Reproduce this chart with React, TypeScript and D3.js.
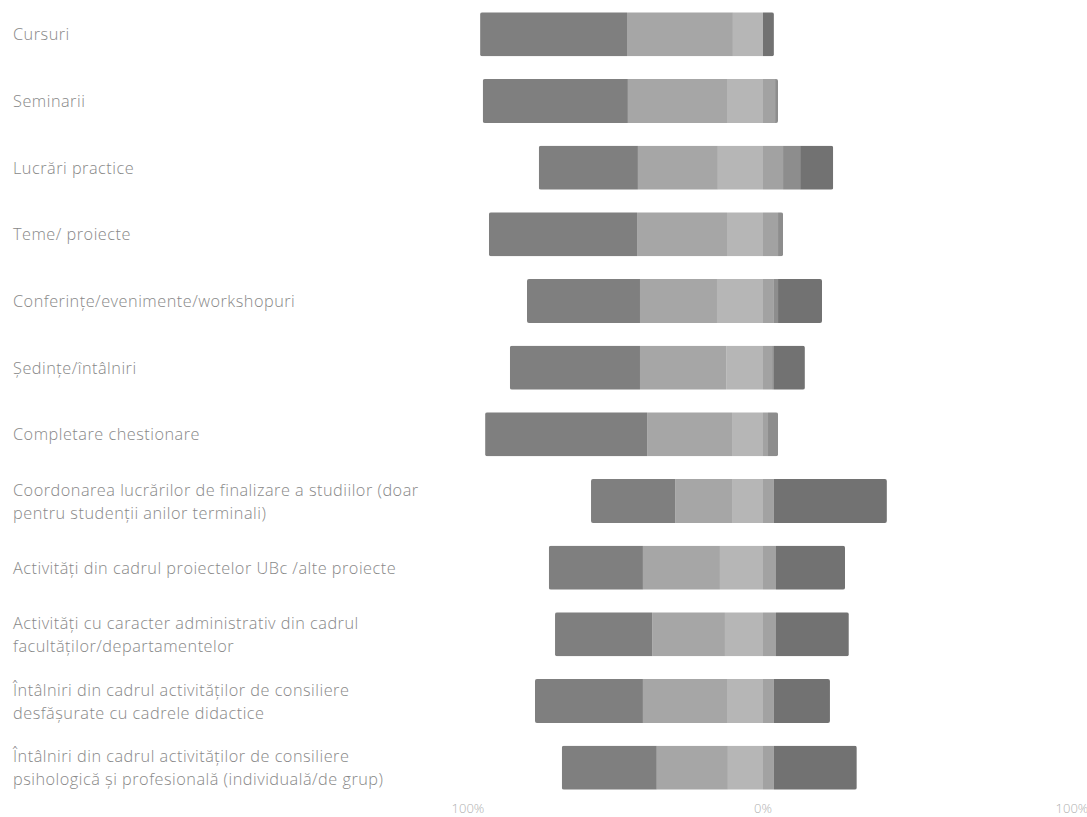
import React from "react";
import * as d3 from "d3";

const categories: string[] = [
  "Cursuri",
  "Seminarii",
  "Lucrări practice",
  "Teme/ proiecte",
  "Conferințe/evenimente/workshopuri",
  "Ședințe/întâlniri",
  "Completare chestionare",
  "Coordonarea lucrărilor de finalizare a studiilor (doar\npentru studenții anilor terminali)",
  "Activități din cadrul proiectelor UBc /alte proiecte",
  "Activități cu caracter administrativ din cadrul\nfacultăților/departamentelor",
  "Întâlniri din cadrul activităților de consiliere\ndesfășurate cu cadrele didactice",
  "Întâlniri din cadrul activităților de consiliere\npsihologică și profesională (individuală/de grup)",
];

// left-side (negative) levels, from outermost to zero
const levelA: number[] = [49.8, 49.2, 33.6, 50.2, 38.3, 44.1, 54.9, 28.5, 31.9, 32.9, 36.6, 32.2];
const levelB: number[] = [35.9, 33.6, 27.1, 30.5, 26.1, 29.2, 28.8, 19.3, 26.1, 24.7, 28.5, 24.1];
const levelC: number[] = [10.2, 12.2, 15.3, 12.2, 15.6, 12.5, 10.5, 10.5, 14.6, 12.9, 12.2, 11.9];
// right-side (positive) levels, from zero outwards
const levelD: number[] = [0.0, 4.1, 6.8, 5.1, 3.7, 3.1, 1.7, 3.7, 4.4, 4.4, 3.7, 3.7];
const levelE: number[] = [0.0, 1.0, 5.8, 1.7, 1.4, 0.6, 3.4, 0.0, 0.0, 0.0, 0.0, 0.0];
const levelF: number[] = [3.7, 0.0, 11.2, 0.0, 14.9, 10.5, 0.0, 38.3, 23.4, 24.7, 19.0, 28.1];

const tickValues: number[] = [-100, 0, 100];
const tickLabels: string[] = ["100%", "0%", "100%"];

const leftColors = ["#7f7f7f", "#a6a6a6", "#b6b6b6"];
const rightColors = ["#a2a2a2", "#8d8d8d", "#727272"];

export default function App() {
  const W = 1087;
  const H = 817;
  const x = d3.scaleLinear().domain([-100, 100]).range([468, 1058]);
  const y = d3
    .scaleBand<number>()
    .domain(d3.range(categories.length))
    .range([1, 801])
    .paddingInner(0.34)
    .paddingOuter(0.17);
  const bw = y.bandwidth();

  const rows = categories.map((cat, i) => {
    const left = [levelA[i], levelB[i], levelC[i]];
    const right = [levelD[i], levelE[i], levelF[i]];
    const segs: { x0: number; x1: number; color: string }[] = [];
    let start = -d3.sum(left);
    left.forEach((v, k) => {
      segs.push({ x0: start, x1: start + v, color: leftColors[k] });
      start += v;
    });
    let s2 = 0;
    right.forEach((v, k) => {
      segs.push({ x0: s2, x1: s2 + v, color: rightColors[k] });
      s2 += v;
    });
    return { cat, segs, min: -d3.sum(left), max: s2, i };
  });

  return (
    <svg
      width={W}
      height={H}
      style={{ position: "absolute", left: 0, top: 0, background: "#fff" }}
      fontFamily="'Open Sans', 'Noto Sans', sans-serif"
    >
      <defs>
        {rows.map((r) => (
          <clipPath id={`clip-${r.i}`} key={r.i}>
            <rect
              x={x(r.min)}
              y={y(r.i)!}
              width={x(r.max) - x(r.min)}
              height={bw}
              rx={2}
            />
          </clipPath>
        ))}
      </defs>
      {rows.map((r) => {
        const lines = r.cat.split("\n");
        const cy = y(r.i)! + bw / 2;
        const lh = 23;
        return (
          <g key={r.i}>
            <text fill="#888" fontSize={16.3} fontWeight={300} letterSpacing={0.5}>
              {lines.map((ln, k) => (
                <tspan
                  key={k}
                  x={13}
                  y={cy + (k - (lines.length - 1) / 2) * lh}
                  dominantBaseline="central"
                >
                  {ln}
                </tspan>
              ))}
            </text>
            <g clipPath={`url(#clip-${r.i})`}>
              {r.segs
                .filter((s) => s.x1 > s.x0)
                .map((s, k) => (
                  <rect
                    key={k}
                    x={x(s.x0)}
                    y={y(r.i)!}
                    width={x(s.x1) - x(s.x0)}
                    height={bw}
                    fill={s.color}
                  />
                ))}
            </g>
          </g>
        );
      })}
      {tickValues.map((t, k) => (
        <text
          key={k}
          x={x(t) + (k === 2 ? 14 : 0)}
          y={808}
          textAnchor="middle"
          dominantBaseline="central"
          fill="#b0b0b0"
          fontSize={13}
          fontWeight={300}
        >
          {tickLabels[k]}
        </text>
      ))}
    </svg>
  );
}
